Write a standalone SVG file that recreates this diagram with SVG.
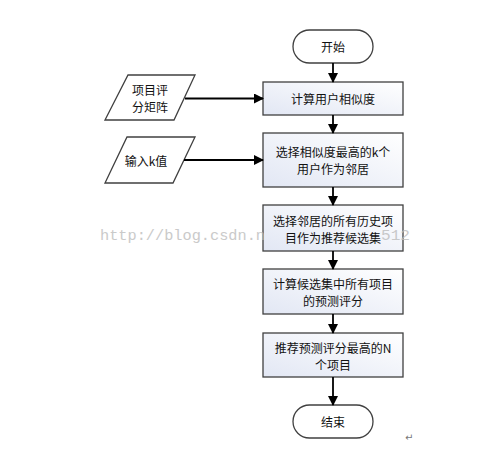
<svg xmlns="http://www.w3.org/2000/svg" width="493" height="449" viewBox="0 0 493 449">
<defs>
<linearGradient id="g" x1="0" y1="1" x2="1" y2="0">
<stop offset="0" stop-color="#e2e7f4"/>
<stop offset="1" stop-color="#ffffff"/>
</linearGradient>
<marker id="ah" markerWidth="10" markerHeight="10" refX="9" refY="5" orient="auto" markerUnits="userSpaceOnUse">
<path d="M0,0 L10,5 L0,10 Z" fill="#000"/>
</marker>
<style>
.box{fill:url(#g);stroke:#404040;stroke-width:1.3}
.term{fill:#fff;stroke:#404040;stroke-width:1.3}
.para{fill:#fff;stroke:#404040;stroke-width:1.3}
.t{font-family:"Noto Sans CJK SC","Liberation Sans",sans-serif;font-size:12px;fill:#111;text-anchor:middle;dominant-baseline:central}
.c{stroke:#000;stroke-width:1.8;fill:none;marker-end:url(#ah)}
.wm{font-family:"Liberation Mono",monospace;font-size:15.5px;fill:#bdbdbd;opacity:0.8}
</style>
</defs>
<rect width="493" height="449" fill="#fff"/>
<g id="start"><rect class="term" x="293" y="30" width="80" height="33" rx="16.5"/><text class="t" x="333" y="46.5">开始</text></g>
<g id="n1"><rect class="box" x="263" y="82" width="140" height="33"/><text class="t" x="333" y="98.5">计算用户相似度</text></g>
<g id="n2"><rect class="box" x="263" y="133" width="140" height="54"/><text class="t" x="333" y="151.5">选择相似度最高的k个</text><text class="t" x="333" y="168.5">用户作为邻居</text></g>
<g id="n3"><rect class="box" x="263" y="205" width="140" height="46"/><text class="t" x="333" y="220">选择邻居的所有历史项</text><text class="t" x="333" y="237">目作为推荐候选集</text></g>
<g id="n4"><rect class="box" x="263" y="269" width="140" height="45"/><text class="t" x="333" y="283">计算候选集中所有项目</text><text class="t" x="333" y="300">的预测评分</text></g>
<g id="n5"><rect class="box" x="263" y="333" width="140" height="44"/><text class="t" x="333" y="347">推荐预测评分最高的N</text><text class="t" x="333" y="364">个项目</text></g>
<g id="end"><rect class="term" x="293" y="405" width="80" height="33" rx="16.5"/><text class="t" x="333" y="421.5">结束</text></g>
<g id="in1"><polygon class="para" points="128,75 195,75 174,120 105,120"/><text class="t" x="150" y="89.5">项目评</text><text class="t" x="150" y="106.5">分矩阵</text></g>
<g id="in2"><polygon class="para" points="127,137 195,137 173,183 105,183"/><text class="t" x="146" y="160">输入k值</text></g>
<g id="connectors">
<line class="c" x1="333" y1="63" x2="333" y2="82"/>
<line class="c" x1="333" y1="115" x2="333" y2="133"/>
<line class="c" x1="333" y1="187" x2="333" y2="205"/>
<line class="c" x1="333" y1="251" x2="333" y2="269"/>
<line class="c" x1="333" y1="314" x2="333" y2="333"/>
<line class="c" x1="333" y1="377" x2="333" y2="405"/>
<line class="c" x1="185" y1="98.5" x2="263" y2="98.5"/>
<line class="c" x1="184" y1="160" x2="263" y2="160"/>
</g>
<text class="wm" x="100" y="240" textLength="165" lengthAdjust="spacingAndGlyphs">http://blog.csdn.n</text>
<text class="wm" x="381" y="240" textLength="29" lengthAdjust="spacingAndGlyphs">512</text>
<text x="405" y="441" font-family="DejaVu Sans,sans-serif" font-size="10" fill="#777">↵</text>
</svg>
